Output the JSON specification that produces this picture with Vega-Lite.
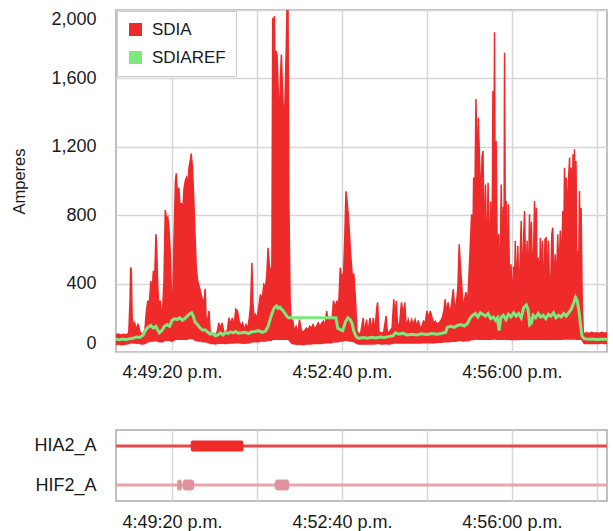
{
  "$schema": "https://vega.github.io/schema/vega-lite/v6.json",
  "padding": {"left": 11, "top": 9, "right": 3, "bottom": 2},
  "spacing": 47,
  "config": {
    "font": "Liberation Sans",
    "view": {"stroke": "#aaaaaa", "strokeWidth": 1.5},
    "axis": {"labelFont": "Liberation Sans", "labelFontSize": 18, "labelColor": "#1a1a1a", "gridColor": "#d6d6d6", "gridWidth": 1.5, "ticks": false, "domain": false, "labelOverlap": false}
  },
  "datasets": {
    "sdia": [
      {"t":14,"hi":100,"lo":40},{"t":17,"hi":105,"lo":42},{"t":20,"hi":98,"lo":38},{"t":23,"hi":104,"lo":40},{"t":26,"hi":100,"lo":42},{"t":29,"hi":110,"lo":45},{"t":30.5,"hi":300,"lo":48},{"t":31.3,"hi":495,"lo":50},{"t":32,"hi":480,"lo":50},{"t":33,"hi":200,"lo":50},{"t":34.5,"hi":150,"lo":48},{"t":36,"hi":170,"lo":50},{"t":38,"hi":130,"lo":45},{"t":40,"hi":165,"lo":48},{"t":42,"hi":120,"lo":45},{"t":44,"hi":105,"lo":42},{"t":46,"hi":110,"lo":42},{"t":48,"hi":130,"lo":45},{"t":50,"hi":250,"lo":50},{"t":51.5,"hi":300,"lo":55},{"t":53,"hi":260,"lo":55},{"t":55,"hi":415,"lo":60},{"t":56.5,"hi":350,"lo":60},{"t":58,"hi":475,"lo":60},{"t":59.5,"hi":420,"lo":60},{"t":61,"hi":690,"lo":65},{"t":62,"hi":600,"lo":60},{"t":63,"hi":400,"lo":60},{"t":64.5,"hi":260,"lo":55},{"t":66,"hi":300,"lo":55},{"t":67.5,"hi":230,"lo":55},{"t":69,"hi":260,"lo":55},{"t":70.5,"hi":420,"lo":60},{"t":72,"hi":830,"lo":65},{"t":73.5,"hi":780,"lo":65},{"t":75,"hi":790,"lo":65},{"t":76.5,"hi":710,"lo":65},{"t":78,"hi":570,"lo":60},{"t":79.5,"hi":300,"lo":60},{"t":81,"hi":350,"lo":60},{"t":82.5,"hi":700,"lo":65},{"t":84,"hi":1000,"lo":70},{"t":85,"hi":1045,"lo":70},{"t":86.5,"hi":900,"lo":70},{"t":88,"hi":960,"lo":70},{"t":89.5,"hi":840,"lo":70},{"t":91,"hi":870,"lo":70},{"t":92.5,"hi":820,"lo":70},{"t":94,"hi":950,"lo":70},{"t":95.5,"hi":1000,"lo":70},{"t":97,"hi":1020,"lo":70},{"t":98.5,"hi":980,"lo":70},{"t":100,"hi":1080,"lo":75},{"t":101.5,"hi":1120,"lo":75},{"t":102.5,"hi":1160,"lo":75},{"t":104,"hi":1080,"lo":75},{"t":105.5,"hi":900,"lo":70},{"t":107,"hi":690,"lo":65},{"t":108.5,"hi":490,"lo":65},{"t":110,"hi":420,"lo":60},{"t":112,"hi":380,"lo":60},{"t":114,"hi":340,"lo":60},{"t":116,"hi":300,"lo":55},{"t":118,"hi":310,"lo":55},{"t":119,"hi":370,"lo":55},{"t":120,"hi":200,"lo":55},{"t":122,"hi":190,"lo":50},{"t":123.5,"hi":240,"lo":50},{"t":125,"hi":110,"lo":45},{"t":127,"hi":105,"lo":45},{"t":129,"hi":110,"lo":45},{"t":131,"hi":100,"lo":42},{"t":133,"hi":115,"lo":45},{"t":135,"hi":170,"lo":48},{"t":137,"hi":140,"lo":45},{"t":139,"hi":170,"lo":48},{"t":141,"hi":115,"lo":45},{"t":143,"hi":120,"lo":45},{"t":145,"hi":125,"lo":45},{"t":147,"hi":200,"lo":48},{"t":149,"hi":160,"lo":48},{"t":151,"hi":200,"lo":48},{"t":153,"hi":150,"lo":48},{"t":155,"hi":250,"lo":50},{"t":157,"hi":240,"lo":50},{"t":159,"hi":180,"lo":50},{"t":161,"hi":150,"lo":48},{"t":163,"hi":170,"lo":48},{"t":165,"hi":130,"lo":45},{"t":167,"hi":160,"lo":48},{"t":169,"hi":140,"lo":48},{"t":171,"hi":200,"lo":50},{"t":172.5,"hi":280,"lo":50},{"t":174,"hi":522,"lo":55},{"t":175,"hi":300,"lo":55},{"t":176.5,"hi":200,"lo":55},{"t":178,"hi":220,"lo":55},{"t":180,"hi":200,"lo":55},{"t":182,"hi":260,"lo":55},{"t":184,"hi":337,"lo":60},{"t":186,"hi":300,"lo":60},{"t":188,"hi":395,"lo":60},{"t":190,"hi":380,"lo":60},{"t":191.5,"hi":450,"lo":62},{"t":193,"hi":610,"lo":65},{"t":194.5,"hi":513,"lo":65},{"t":196,"hi":455,"lo":65},{"t":197.5,"hi":500,"lo":65},{"t":198.5,"hi":1955,"lo":70},{"t":199.5,"hi":1700,"lo":70},{"t":200.5,"hi":1965,"lo":70},{"t":201.5,"hi":1500,"lo":70},{"t":202.5,"hi":1760,"lo":70},{"t":203.5,"hi":1740,"lo":70},{"t":205,"hi":1527,"lo":70},{"t":206.5,"hi":1312,"lo":70},{"t":207.5,"hi":1600,"lo":70},{"t":208.7,"hi":1740,"lo":70},{"t":210,"hi":1546,"lo":70},{"t":211.5,"hi":1350,"lo":70},{"t":213,"hi":1468,"lo":70},{"t":214.5,"hi":1800,"lo":70},{"t":215.3,"hi":2000,"lo":70},{"t":216.5,"hi":2000,"lo":70},{"t":217.5,"hi":883,"lo":65},
      {"t":219,"hi":300,"lo":55},{"t":220.5,"hi":150,"lo":45},{"t":222,"hi":190,"lo":45},{"t":224,"hi":120,"lo":42},{"t":226,"hi":150,"lo":42},{"t":228,"hi":110,"lo":40},{"t":230,"hi":190,"lo":42},{"t":232,"hi":130,"lo":40},{"t":234,"hi":115,"lo":40},{"t":236,"hi":125,"lo":40},{"t":238,"hi":140,"lo":42},{"t":240,"hi":130,"lo":42},{"t":242,"hi":150,"lo":42},{"t":244,"hi":140,"lo":42},{"t":246,"hi":160,"lo":45},{"t":248,"hi":135,"lo":45},{"t":250,"hi":150,"lo":45},{"t":252,"hi":170,"lo":45},{"t":254,"hi":150,"lo":45},{"t":256,"hi":165,"lo":45},{"t":258,"hi":180,"lo":48},{"t":260,"hi":150,"lo":48},{"t":262,"hi":240,"lo":50},{"t":264,"hi":170,"lo":50},{"t":266,"hi":200,"lo":50},{"t":268,"hi":170,"lo":50},{"t":270,"hi":300,"lo":55},{"t":272,"hi":260,"lo":55},{"t":274,"hi":300,"lo":55},{"t":276,"hi":260,"lo":55},{"t":278,"hi":493,"lo":60},{"t":280,"hi":420,"lo":60},{"t":282,"hi":475,"lo":60},{"t":283.5,"hi":700,"lo":65},{"t":284.7,"hi":940,"lo":65},{"t":286,"hi":883,"lo":65},{"t":288,"hi":766,"lo":60},{"t":290,"hi":590,"lo":60},{"t":292,"hi":455,"lo":58},{"t":294,"hi":455,"lo":55},{"t":296,"hi":300,"lo":50},{"t":297.7,"hi":120,"lo":45},{"t":300,"hi":105,"lo":42},
      {"t":302,"hi":110,"lo":42},{"t":305,"hi":200,"lo":42},{"t":306.5,"hi":110,"lo":42},{"t":309,"hi":190,"lo":42},{"t":310.5,"hi":110,"lo":42},{"t":313,"hi":200,"lo":42},{"t":315,"hi":120,"lo":42},{"t":317,"hi":200,"lo":42},{"t":318.5,"hi":110,"lo":42},{"t":321,"hi":260,"lo":45},{"t":322,"hi":290,"lo":45},{"t":323.5,"hi":120,"lo":45},{"t":326,"hi":110,"lo":42},{"t":329,"hi":115,"lo":42},{"t":332,"hi":210,"lo":45},{"t":333.5,"hi":110,"lo":42},{"t":336,"hi":120,"lo":42},{"t":339,"hi":140,"lo":45},{"t":341,"hi":308,"lo":48},{"t":342.5,"hi":200,"lo":48},{"t":344,"hi":300,"lo":48},{"t":345.5,"hi":150,"lo":48},{"t":348,"hi":170,"lo":48},{"t":350,"hi":290,"lo":48},{"t":352,"hi":220,"lo":48},{"t":354,"hi":290,"lo":48},{"t":355.5,"hi":150,"lo":48},{"t":358,"hi":190,"lo":48},{"t":360,"hi":150,"lo":48},{"t":362,"hi":190,"lo":48},{"t":364,"hi":160,"lo":48},{"t":366,"hi":190,"lo":48},{"t":368,"hi":150,"lo":48},{"t":370,"hi":185,"lo":48},{"t":372,"hi":140,"lo":48},{"t":374,"hi":150,"lo":50},{"t":376,"hi":180,"lo":50},{"t":378,"hi":170,"lo":50},{"t":380,"hi":240,"lo":50},{"t":382,"hi":200,"lo":50},{"t":384,"hi":240,"lo":50},{"t":386,"hi":200,"lo":50},{"t":388,"hi":170,"lo":50},{"t":390,"hi":180,"lo":50},{"t":392,"hi":160,"lo":52},{"t":394,"hi":170,"lo":52},{"t":396,"hi":180,"lo":52},{"t":398,"hi":200,"lo":52},{"t":400,"hi":240,"lo":55},{"t":401.5,"hi":308,"lo":55},{"t":403,"hi":230,"lo":55},{"t":405,"hi":290,"lo":55},{"t":407,"hi":220,"lo":55},{"t":409,"hi":280,"lo":58},{"t":411,"hi":367,"lo":58},{"t":413,"hi":240,"lo":58},{"t":415,"hi":300,"lo":60},{"t":416.5,"hi":380,"lo":60},{"t":418,"hi":630,"lo":65},{"t":419.5,"hi":493,"lo":65},{"t":421,"hi":395,"lo":62},{"t":422.5,"hi":240,"lo":60},{"t":424,"hi":300,"lo":62},{"t":426,"hi":350,"lo":62},{"t":428,"hi":280,"lo":62},{"t":430.6,"hi":571,"lo":65},{"t":432.6,"hi":805,"lo":68},{"t":434,"hi":600,"lo":68},{"t":435,"hi":1020,"lo":70},{"t":436.5,"hi":900,"lo":70},{"t":437.7,"hi":1480,"lo":72},{"t":439,"hi":1078,"lo":70},{"t":440.5,"hi":1370,"lo":70},{"t":442,"hi":1117,"lo":70},{"t":443.5,"hi":883,"lo":70},{"t":445,"hi":1150,"lo":70},
      {"t":446,"hi":1175,"lo":70},{"t":447.5,"hi":600,"lo":70},{"t":449,"hi":980,"lo":70},{"t":450.5,"hi":450,"lo":70},{"t":452,"hi":990,"lo":70},{"t":453.5,"hi":500,"lo":70},{"t":455,"hi":880,"lo":70},{"t":456.5,"hi":400,"lo":70},{"t":457.7,"hi":1527,"lo":72},{"t":458.7,"hi":900,"lo":72},{"t":459.6,"hi":1870,"lo":72},{"t":460.5,"hi":700,"lo":72},{"t":461.5,"hi":1234,"lo":72},{"t":463,"hi":450,"lo":70},{"t":464.5,"hi":690,"lo":70},{"t":466,"hi":350,"lo":70},{"t":467.5,"hi":980,"lo":70},{"t":469,"hi":500,"lo":70},{"t":470,"hi":850,"lo":70},{"t":470.8,"hi":600,"lo":70},{"t":471.4,"hi":1750,"lo":72},{"t":472.5,"hi":500,"lo":70},{"t":473.5,"hi":883,"lo":70},{"t":475,"hi":350,"lo":70},{"t":476,"hi":864,"lo":70},{"t":477.5,"hi":300,"lo":68},{"t":479,"hi":513,"lo":68},{"t":480.5,"hi":280,"lo":68},{"t":482,"hi":500,"lo":68},{"t":483,"hi":300,"lo":68},{"t":484,"hi":650,"lo":68},{"t":485.5,"hi":320,"lo":68},{"t":487,"hi":620,"lo":68},{"t":488.5,"hi":300,"lo":68},{"t":490,"hi":590,"lo":68},{"t":491,"hi":766,"lo":70},{"t":492.5,"hi":350,"lo":70},{"t":494,"hi":688,"lo":70},{"t":495,"hi":825,"lo":70},{"t":496.5,"hi":400,"lo":70},{"t":498,"hi":650,"lo":70},{"t":499,"hi":300,"lo":68},{"t":500.8,"hi":805,"lo":70},{"t":502,"hi":400,"lo":70},{"t":503,"hi":760,"lo":70},{"t":504.5,"hi":350,"lo":70},{"t":506,"hi":688,"lo":70},{"t":506.7,"hi":883,"lo":70},{"t":508,"hi":450,"lo":70},{"t":508.8,"hi":844,"lo":70},{"t":510,"hi":300,"lo":70},{"t":511,"hi":552,"lo":70},{"t":512.5,"hi":350,"lo":70},{"t":513.5,"hi":667,"lo":70},{"t":515,"hi":400,"lo":70},{"t":516,"hi":650,"lo":70},{"t":517.5,"hi":300,"lo":68},{"t":519,"hi":660,"lo":70},{"t":520.4,"hi":667,"lo":70},{"t":521.5,"hi":300,"lo":70},{"t":523,"hi":650,"lo":70},{"t":524.5,"hi":350,"lo":68},{"t":526,"hi":455,"lo":70},{"t":527,"hi":688,"lo":70},{"t":528.2,"hi":727,"lo":70},{"t":529.5,"hi":350,"lo":70},{"t":531,"hi":571,"lo":70},{"t":532.5,"hi":400,"lo":70},{"t":534,"hi":688,"lo":70},{"t":535.5,"hi":450,"lo":70},{"t":537,"hi":710,"lo":70},{"t":538.5,"hi":500,"lo":70},{"t":540,"hi":825,"lo":70},{"t":541,"hi":600,"lo":72},{"t":542,"hi":1078,"lo":72},{"t":543,"hi":700,"lo":72},{"t":544,"hi":1020,"lo":72},{"t":545.5,"hi":800,"lo":72},{"t":547,"hi":1040,"lo":72},{"t":548,"hi":1137,"lo":72},{"t":549,"hi":700,"lo":72},{"t":550,"hi":1078,"lo":72},{"t":551,"hi":800,"lo":72},{"t":552,"hi":1156,"lo":72},{"t":553,"hi":900,"lo":72},{"t":553.7,"hi":1185,"lo":72},{"t":554.5,"hi":800,"lo":72},{"t":555.5,"hi":1117,"lo":72},{"t":556.5,"hi":500,"lo":70},{"t":557.5,"hi":590,"lo":70},{"t":558.5,"hi":400,"lo":70},{"t":559.6,"hi":942,"lo":70},{"t":560.5,"hi":600,"lo":70},{"t":561.5,"hi":844,"lo":70},{"t":562.8,"hi":300,"lo":60},{"t":564,"hi":123,"lo":50},{"t":565.5,"hi":103,"lo":45},{"t":568,"hi":113,"lo":45},{"t":571,"hi":108,"lo":45},{"t":574,"hi":115,"lo":45},{"t":577,"hi":110,"lo":45},{"t":580,"hi":112,"lo":45},{"t":583,"hi":108,"lo":45},{"t":586,"hi":115,"lo":48},{"t":589,"hi":110,"lo":45},{"t":592,"hi":112,"lo":45}
    ],
    "ref": [
      {"t":14,"v":74},{"t":18,"v":72},{"t":22,"v":76},{"t":26,"v":72},{"t":30,"v":78},{"t":34,"v":80},{"t":38,"v":88},{"t":42,"v":85},{"t":46,"v":100},{"t":49,"v":130},{"t":52,"v":145},{"t":55,"v":155},{"t":58,"v":140},{"t":61,"v":150},{"t":63,"v":130},{"t":65,"v":112},{"t":68,"v":125},{"t":71,"v":150},{"t":74,"v":160},{"t":77,"v":150},{"t":80,"v":185},{"t":83,"v":195},{"t":86,"v":190},{"t":89,"v":200},{"t":92,"v":185},{"t":95,"v":195},{"t":98,"v":210},{"t":101,"v":225},{"t":103,"v":230},{"t":105,"v":210},{"t":107,"v":175},{"t":110,"v":160},{"t":113,"v":140},{"t":116,"v":128},{"t":119,"v":130},{"t":122,"v":115},{"t":125,"v":105},{"t":128,"v":108},{"t":131,"v":95},{"t":134,"v":100},{"t":137,"v":112},{"t":140,"v":100},{"t":143,"v":115},{"t":146,"v":108},{"t":149,"v":118},{"t":152,"v":112},{"t":155,"v":120},{"t":158,"v":110},{"t":162,"v":112},{"t":166,"v":115},{"t":170,"v":108},{"t":174,"v":118},{"t":178,"v":120},{"t":182,"v":125},{"t":186,"v":115},{"t":190,"v":122},{"t":193,"v":150},{"t":196,"v":200},{"t":199,"v":245},{"t":201,"v":262},{"t":203,"v":270},{"t":205,"v":255},{"t":207,"v":262},{"t":209,"v":250},{"t":211,"v":240},{"t":213,"v":225},{"t":215,"v":210},{"t":217,"v":200},{"t":273,"v":200},{"t":275,"v":140},{"t":278,"v":130},{"t":281,"v":125},{"t":284,"v":175},{"t":287,"v":200},{"t":290,"v":188},{"t":292,"v":165},{"t":294,"v":120},{"t":297,"v":88},{"t":300,"v":80},{"t":305,"v":84},{"t":310,"v":80},{"t":315,"v":86},{"t":320,"v":82},{"t":325,"v":88},{"t":330,"v":85},{"t":335,"v":90},{"t":340,"v":95},{"t":343,"v":112},{"t":347,"v":104},{"t":352,"v":110},{"t":356,"v":100},{"t":362,"v":104},{"t":368,"v":100},{"t":374,"v":106},{"t":380,"v":102},{"t":386,"v":108},{"t":392,"v":104},{"t":398,"v":110},{"t":402,"v":114},{"t":404,"v":145},{"t":408,"v":150},{"t":412,"v":144},{"t":416,"v":155},{"t":420,"v":160},{"t":424,"v":152},{"t":428,"v":168},{"t":431,"v":200},{"t":434,"v":215},{"t":437,"v":225},{"t":440,"v":205},{"t":443,"v":230},{"t":446,"v":220},{"t":449,"v":210},{"t":452,"v":225},{"t":455,"v":195},{"t":458,"v":205},{"t":461,"v":185},{"t":463,"v":200},{"t":465,"v":125},{"t":467,"v":200},{"t":470,"v":215},{"t":473,"v":190},{"t":476,"v":220},{"t":479,"v":205},{"t":482,"v":230},{"t":485,"v":210},{"t":488,"v":225},{"t":491,"v":200},{"t":494,"v":260},{"t":497,"v":275},{"t":499,"v":250},{"t":501,"v":160},{"t":503,"v":170},{"t":505,"v":215},{"t":508,"v":200},{"t":511,"v":225},{"t":514,"v":205},{"t":517,"v":215},{"t":520,"v":195},{"t":523,"v":220},{"t":526,"v":210},{"t":529,"v":230},{"t":532,"v":200},{"t":535,"v":215},{"t":538,"v":205},{"t":541,"v":225},{"t":544,"v":210},{"t":547,"v":230},{"t":550,"v":250},{"t":553,"v":290},{"t":555,"v":320},{"t":557,"v":300},{"t":559,"v":240},{"t":561,"v":150},{"t":562.5,"v":95},{"t":565,"v":78},{"t":570,"v":74},{"t":575,"v":76},{"t":580,"v":73},{"t":585,"v":75},{"t":592,"v":74}
    ],
    "events": [
      {"sig":"HIA2_A","from":14,"to":592,"state":"base"},
      {"sig":"HIA2_A","from":102,"to":164,"state":"on"},
      {"sig":"HIF2_A","from":14,"to":592,"state":"base"},
      {"sig":"HIF2_A","from":86,"to":91.5,"state":"on"},
      {"sig":"HIF2_A","from":92.5,"to":106,"state":"on"},
      {"sig":"HIF2_A","from":201,"to":218,"state":"on"}
    ]
  },
  "vconcat": [
    {
      "width": 491,
      "height": 342,
      "layer": [
        {
          "data": {"name": "sdia"},
          "mark": {"type": "area", "clip": true, "opacity": 1, "fillOpacity": 1, "line": {"color": "#ee2a2a", "strokeWidth": 1.5}},
          "encoding": {
            "x": {"field": "t", "type": "quantitative", "scale": {"domain": [14, 592], "nice": false, "zero": false},
              "axis": {"title": null, "values": [80, 180, 280, 380, 480, 580], "labelPadding": 11, "labelFlush": false,
                "labelExpr": "datum.value % 200 == 80 ? '4:' + (floor(datum.value / 60) + 48) + ':' + (datum.value % 60 < 10 ? '0' : '') + (datum.value % 60) + ' p.m.' : ''"}},
            "y": {"field": "hi", "type": "quantitative", "scale": {"domain": [0, 2000], "nice": false},
              "axis": {"title": "Amperes", "titleFont": "Liberation Sans", "titleFontSize": 16.5, "titleFontWeight": "normal", "titleColor": "#1a1a1a", "titlePadding": 23,
                "values": [0, 200, 400, 600, 800, 1000, 1200, 1400, 1600, 1800, 2000], "labelPadding": 20, "labelFlush": true,
                "labelExpr": "datum.value % 400 == 0 ? format(datum.value, ',') : ''"}},
            "y2": {"field": "lo"},
            "color": {"datum": "SDIA", "type": "nominal",
              "scale": {"domain": ["SDIA", "SDIAREF"], "range": ["#ee2a2a", "#7de87d"]},
              "legend": {"title": null, "orient": "top-left", "offset": 1, "fillColor": "white", "strokeColor": "#cccccc", "padding": 10,
                "symbolType": "square", "symbolSize": 169, "labelFont": "Liberation Sans", "labelFontSize": 17, "labelColor": "#1a1a1a",
                "rowPadding": 10, "labelOffset": 8,
                "encode": {"symbols": {"update": {"fill": {"scale": "color", "field": "value"}, "fillOpacity": {"value": 1}, "opacity": {"value": 1}, "stroke": {"value": "transparent"}, "strokeWidth": {"value": 0}}}}}}
          }
        },
        {
          "data": {"name": "ref"},
          "mark": {"type": "line", "strokeWidth": 3, "clip": true},
          "encoding": {
            "x": {"field": "t", "type": "quantitative"},
            "y": {"field": "v", "type": "quantitative"},
            "color": {"datum": "SDIAREF", "type": "nominal"}
          }
        }
      ]
    },
    {
      "width": 491,
      "height": 71,
      "data": {"name": "events"},
      "encoding": {
        "y": {"field": "sig", "type": "nominal", "scale": {"type": "point", "padding": 0.41, "domain": ["HIA2_A", "HIF2_A"]},
          "axis": {"title": null, "grid": false, "labelPadding": 20}},
        "x": {"field": "from", "type": "quantitative", "scale": {"domain": [14, 592], "nice": false, "zero": false},
          "axis": {"title": null, "values": [80, 180, 280, 380, 480, 580], "labelPadding": 12, "labelFlush": false,
            "labelExpr": "datum.value % 200 == 80 ? '4:' + (floor(datum.value / 60) + 48) + ':' + (datum.value % 60 < 10 ? '0' : '') + (datum.value % 60) + ' p.m.' : ''"}},
        "x2": {"field": "to"}
      },
      "layer": [
        {"transform": [{"filter": "datum.sig == 'HIA2_A' && datum.state == 'base'"}], "mark": {"type": "rule", "strokeWidth": 3, "color": "#e84848"}},
        {"transform": [{"filter": "datum.sig == 'HIA2_A' && datum.state == 'on'"}], "mark": {"type": "bar", "height": 11, "cornerRadius": 2, "color": "#ee2a2a"}},
        {"transform": [{"filter": "datum.sig == 'HIF2_A' && datum.state == 'base'"}], "mark": {"type": "rule", "strokeWidth": 3, "color": "#eaa3ab"}},
        {"transform": [{"filter": "datum.sig == 'HIF2_A' && datum.state == 'on'"}], "mark": {"type": "bar", "height": 11, "cornerRadius": 3, "color": "#e0939d"}}
      ]
    }
  ]
}
